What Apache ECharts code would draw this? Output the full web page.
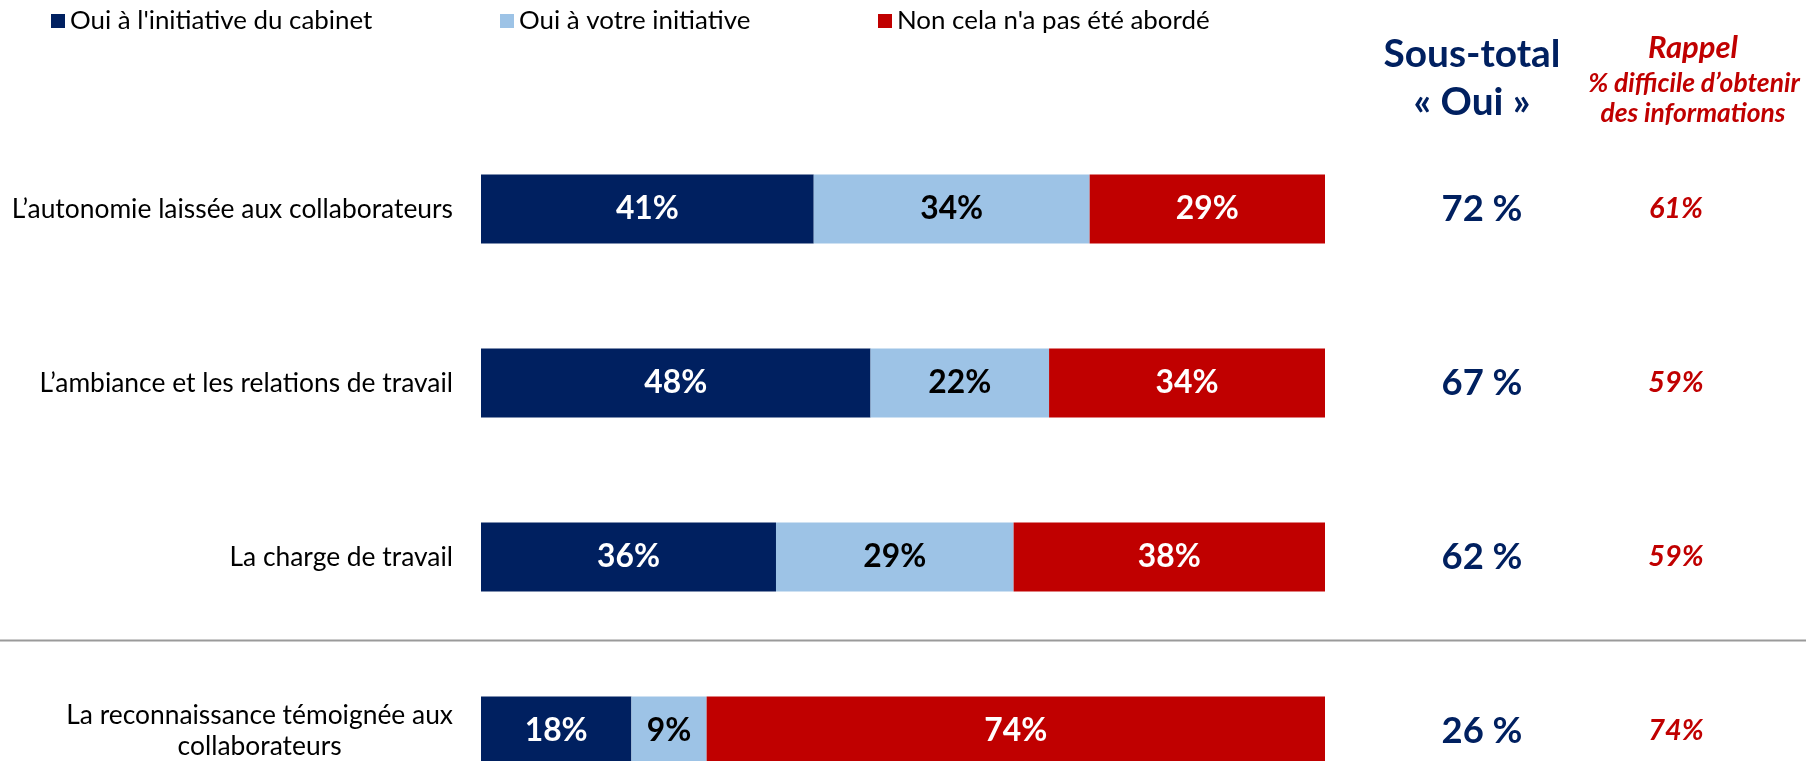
<!DOCTYPE html>
<html>
<head>
<meta charset="utf-8">
<script src="https://cdn.jsdelivr.net/npm/echarts@6/dist/echarts.min.js"></script>
<style>
html,body{margin:0;padding:0;background:#fff;}
#chart{width:1806px;height:761px;}
</style>
</head>
<body>
<div id="chart"></div>
<script>
// ---- data ----
const categories = [
  'L’autonomie laissée aux collaborateurs',
  'L’ambiance et les relations de travail',
  'La charge de travail',
  'La reconnaissance témoignée aux\ncollaborateurs'
];
const seriesNames = ['Oui à l\'initiative du cabinet', 'Oui à votre initiative', 'Non cela n\'a pas été abordé'];
const ouiCabinet = [41, 48, 36, 18];
const ouiVotre = [34, 22, 29, 9];
const nonAborde = [29, 34, 38, 74];
const sousTotal = [72, 67, 62, 26];
const rappel = [61, 59, 59, 74];
const columnNames = ['Sous-total', 'Rappel'];

// ---- styling ----
const NAVY = '#002060', LIGHT = '#9DC3E6', RED = '#C00000';
const FAM = 'Lato, "Open Sans", sans-serif';
const ctx = document.createElement('canvas').getContext('2d');
function fit(text, target, weight, style) {
  ctx.font = (style || 'normal') + ' ' + (weight || 'normal') + ' 100px ' + FAM;
  return Math.round(1000 * target / ctx.measureText(text).width) / 10;
}
const catSize = fit('L’autonomie laissée aux collaborateurs', 441);
const legSize = fit('Oui à l\'initiative du cabinet', 302);
const barLblSize = fit('41%', 63, 'bold');
const stSize = fit('72 %', 81, 'bold');
const rpSize = fit('61%', 54, 'bold', 'italic');
const hdSize = fit('Sous-total', 177, 'bold');
const rpTitleSize = fit('Rappel', 90, 'bold', 'italic');
const rpSubSize = fit('% difficile d’obtenir', 212, 'bold', 'italic');

const rowTotals = categories.map((c, i) => ouiCabinet[i] + ouiVotre[i] + nonAborde[i]);
const share = (arr) => arr.map((v, i) => ({ value: v / rowTotals[i] * 100, raw: v }));

function barSeries(name, arr, color, lblColor) {
  return {
    name: name, type: 'bar', stack: 'total', barWidth: 69,
    xAxisIndex: 0, yAxisIndex: 0,
    data: share(arr),
    itemStyle: { color: color },
    label: {
      show: true, position: 'inside', color: lblColor,
      fontFamily: FAM, fontWeight: 'bold', fontSize: barLblSize,
      formatter: p => p.data.raw + '%'
    },
    emphasis: { disabled: true }
  };
}

function valueColumn(name, col, arr, color, italic, size, suffix) {
  return {
    name: name, type: 'scatter', xAxisIndex: 1, yAxisIndex: 1,
    symbolSize: 0, itemStyle: { color: color, opacity: 1 },
    data: arr.map((v, i) => [col, i, v]),
    label: { show: true, position: 'inside', color: color, opacity: 1, fontFamily: FAM, fontWeight: 'bold',
      fontStyle: italic ? 'italic' : 'normal', fontSize: size,
      formatter: p => p.value[2] + suffix },
    emphasis: { disabled: true }, silent: true
  };
}

const chart = echarts.init(document.getElementById('chart'));
const option = {
  animation: false,
  backgroundColor: '#fff',
  legend: seriesNames.map((n, i) => ({
    data: [n],
    left: [51, 500, 878][i], top: 7, padding: 0,
    icon: 'rect', itemWidth: 14, itemHeight: 14,
    textStyle: { fontFamily: FAM, fontSize: legSize, color: '#000', lineHeight: 28 },
    selectedMode: false
  })),
  grid: [
    { left: 481, width: 844, top: 122, height: 696, outerBoundsMode: 'none', containLabel: false },
    { left: 1385, width: 388, top: 122, height: 696, outerBoundsMode: 'none', containLabel: false }
  ],
  xAxis: [
    { gridIndex: 0, type: 'value', min: 0, max: 100, show: false },
    { gridIndex: 1, type: 'category', data: columnNames, show: false }
  ],
  yAxis: [
    {
      gridIndex: 0, type: 'category', data: categories, inverse: true,
      axisLine: { show: false }, axisTick: { show: false },
      axisLabel: {
        margin: 28,
        formatter: v => v.split('\n').map(l => '{c|' + l + '}').join('\n'),
        rich: { c: { align: 'center', fontFamily: FAM, fontSize: catSize, lineHeight: 31, color: '#000' } }
      }
    },
    { gridIndex: 1, type: 'category', data: categories, inverse: true, show: false }
  ],
  series: [
    barSeries(seriesNames[0], ouiCabinet, NAVY, '#fff'),
    barSeries(seriesNames[1], ouiVotre, LIGHT, '#000'),
    barSeries(seriesNames[2], nonAborde, RED, '#fff'),
    valueColumn('Sous-total', 0, sousTotal, NAVY, false, stSize, ' %'),
    valueColumn('Rappel', 1, rappel, RED, true, rpSize, '%')
  ],
  graphic: [
    { type: 'line', shape: { x1: 0, y1: 640.5, x2: 1806, y2: 640.5 }, style: { stroke: '#9a9a9a', lineWidth: 2 }, silent: true },
    { type: 'text', x: 1472, y: 54, style: { text: 'Sous-total', align: 'center', verticalAlign: 'middle', fill: NAVY, font: 'bold ' + hdSize + 'px ' + FAM } },
    { type: 'text', x: 1472, y: 102, style: { text: '« Oui »', align: 'center', verticalAlign: 'middle', fill: NAVY, font: 'bold ' + hdSize + 'px ' + FAM } },
    { type: 'text', x: 1693, y: 48, style: { text: 'Rappel', align: 'center', verticalAlign: 'middle', fill: RED, font: 'italic bold ' + rpTitleSize + 'px ' + FAM } },
    { type: 'text', x: 1694, y: 83, style: { text: '% difficile d’obtenir', align: 'center', verticalAlign: 'middle', fill: RED, font: 'italic bold ' + rpSubSize + 'px ' + FAM } },
    { type: 'text', x: 1693, y: 113, style: { text: 'des informations', align: 'center', verticalAlign: 'middle', fill: RED, font: 'italic bold ' + rpSubSize + 'px ' + FAM } }
  ]
};
chart.setOption(option);
</script>
</body>
</html>
